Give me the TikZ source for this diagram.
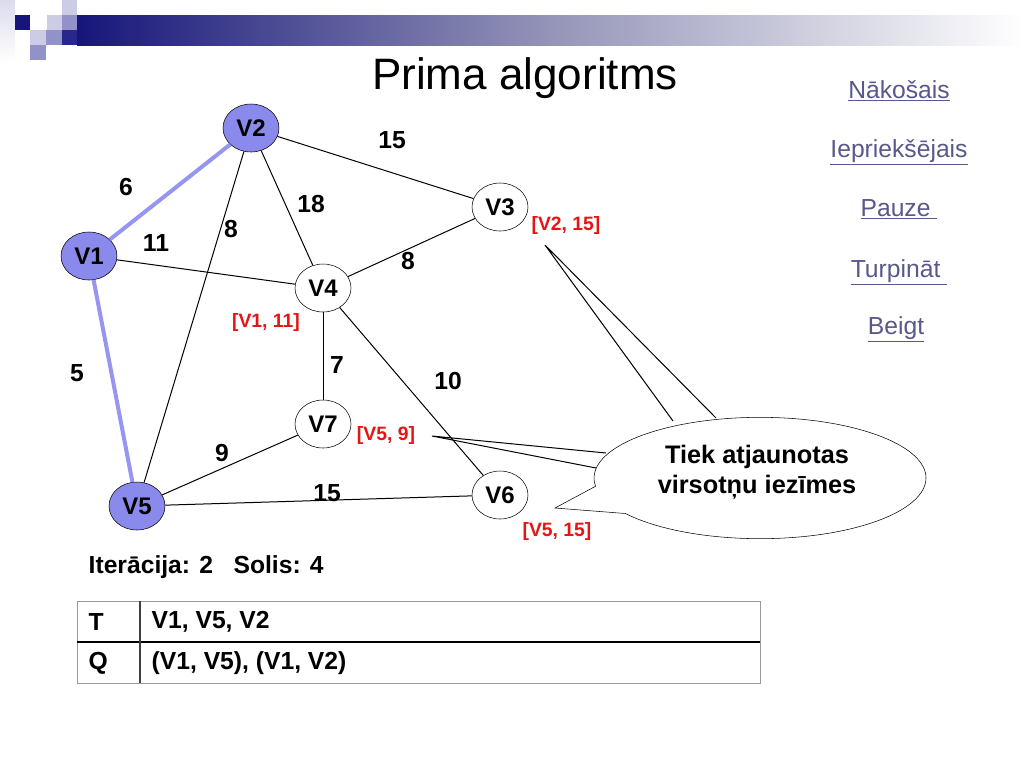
\documentclass[tikz,border=0pt]{standalone}
\usepackage{fontspec}
\setmainfont{Liberation Sans}
\usetikzlibrary{shapes.geometric,shapes.callouts}
\definecolor{navy}{RGB}{22,22,122}
\definecolor{treeblue}{RGB}{150,150,240}
\definecolor{vfill}{RGB}{138,138,236}
\definecolor{linkcol}{RGB}{88,88,140}
\definecolor{labred}{RGB}{230,20,20}
\definecolor{sqlight}{RGB}{204,204,228}
\definecolor{sqmid}{RGB}{146,146,200}
\definecolor{sqdark}{RGB}{40,40,140}
\tikzset{
  vert/.style={ellipse, draw, fill=white, minimum width=42pt, minimum height=36pt, inner sep=0pt,
    font=\fontsize{18}{21}\selectfont\bfseries},
  done/.style={vert, fill=vfill},
  wt/.style={font=\fontsize{18.5}{22}\selectfont\bfseries},
  mark label/.style={text=labred, font=\fontsize{14.5}{17}\selectfont\bfseries},
  link/.style={text=linkcol, font=\fontsize{18.5}{22}\selectfont},
  cell/.style={anchor=west, font=\fontsize{18.5}{22}\selectfont\bfseries},
  edge/.style={line width=0.75pt},
  tree/.style={line width=3pt, treeblue}
}
\begin{document}
\begin{tikzpicture}[x=0.75pt, y=-0.75pt]

    \useasboundingbox (0,0) rectangle (1024,768);

    \shade[left color=navy, right color=white, middle color=black!20!navy!45!white] (77,15) rectangle (1024,45);
    \shade[top color=sqlight!70!white, bottom color=white] (0,0) rectangle (15,62);
    \fill[navy] (15,15) rectangle (30,30);
    \fill[sqlight] (47,15) rectangle (62,30);
    \fill[sqlight] (62,0) rectangle (77,15);
    \fill[sqmid] (62,15) rectangle (77,30);
    \fill[sqlight] (30,30) rectangle (46,45);
    \fill[sqmid] (46,30) rectangle (62,45);
    \fill[sqdark] (62,30) rectangle (77,45);
    \fill[sqmid] (30,45) rectangle (46,60);

    \node[font=\fontsize{33}{38}\selectfont] (title) at (525,78) {Prima algoritms};

    \node[done] (v1) at (89,256) {V1};
    \node[done] (v2) at (251,128) {V2};
    \node[vert] (v3) at (500,207) {V3};
    \node[vert] (v4) at (323,288) {V4};
    \node[done] (v5) at (137,506) {V5};
    \node[vert] (v6) at (500,495) {V6};
    \node[vert] (v7) at (323,424) {V7};

    \draw[tree] (v1) -- (v2);
    \draw[tree] (v1) -- (v5);
    \draw[edge] (v1) -- (v4);
    \draw[edge] (v2) -- (v3);
    \draw[edge] (v2) -- (v4);
    \draw[edge] (v2) -- (v5);
    \draw[edge] (v3) -- (v4);
    \draw[edge] (v4) -- (v7);
    \draw[edge] (v4) -- (v6);
    \draw[edge] (v7) -- (v5);
    \draw[edge] (v5) -- (v6);

    \node[wt] (w12) at (126,187) {6};
    \node[wt] (w14) at (156,243) {11};
    \node[wt] (w25) at (231,229) {8};
    \node[wt] (w24) at (311,204) {18};
    \node[wt] (w23) at (392,140) {15};
    \node[wt] (w34) at (408,261) {8};
    \node[wt] (w15) at (77,373) {5};
    \node[wt] (w47) at (337,365) {7};
    \node[wt] (w46) at (448,381) {10};
    \node[wt] (w57) at (222,453) {9};
    \node[wt] (w56) at (327,493) {15};

    \node[mark label] (m3) at (566,225) {[V2, 15]};
    \node[mark label] (m4) at (266,322) {[V1, 11]};
    \node[mark label] (m7) at (386,435) {[V5, 9]};
    \node[mark label] (m6) at (557,531) {[V5, 15]};

    \coordinate (tipA) at (545,245);
    \coordinate (tipB) at (432,436);
    \draw[edge] (tipA) -- (673,421) (tipA) -- (716,418);
    \draw[edge] (tipB) -- (606,453) (tipB) -- (596,468);
    \node[ellipse callout, draw, fill=white, minimum width=249pt, minimum height=91pt,
      callout absolute pointer={(555,508)}, callout pointer arc=28,
      align=center, font=\fontsize{19}{23}\selectfont\bfseries] (note) at (760,478) {};
    \node[align=center, font=\fontsize{19}{23}\selectfont\bfseries] (notetext) at (757,472)
      {Tiek atjaunotas\\virsot\c{n}u iez\={\i}mes};

    \node[link] (next) at (899,91) {\underline{Nākošais}};
    \node[link] (prev) at (899,152) {\underline{Iepriekšējais}};
    \node[link] (pause) at (899,209) {\underline{Pauze\ }};
    \node[link] (cont) at (899,272) {\underline{Turpināt\ }};
    \node[link] (stop) at (896,329) {\underline{Beigt}};

    \node[cell] (iter) at (84,567) {Iterācija: 2\ \ \ Solis: 4};

    \draw[black!40, line width=0.75pt] (77,601) rectangle (760,683);
    \draw[line width=1.1pt] (77,642) -- (760,642);
    \draw[black!75, line width=1.1pt] (140,601) -- (140,683);
    \node[cell] (tkey) at (84,622) {T};
    \node[cell] (tval) at (147,622) {V1, V5, V2};
    \node[cell] (qkey) at (84,663) {Q};
    \node[cell] (qval) at (147,663) {(V1, V5), (V1, V2)};

\end{tikzpicture}
\end{document}
